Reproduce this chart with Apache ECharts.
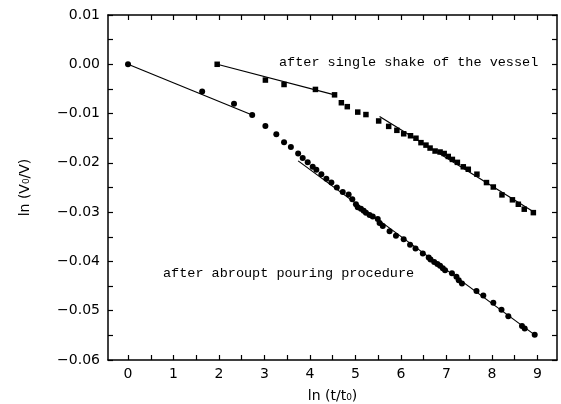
<!DOCTYPE html>
<html><head><meta charset="utf-8">
<script src="https://cdn.jsdelivr.net/npm/echarts@6/dist/echarts.min.js"></script>
<style>html,body{margin:0;padding:0;background:#fff}#c{width:561px;height:404px}</style>
</head><body><div id="c"></div>
<script>
// after abroupt pouring procedure (circles)
var pourX = [0, 1.63, 2.33, 2.73, 3.02, 3.26, 3.43, 3.58, 3.74, 3.84, 3.95, 4.06, 4.14, 4.25, 4.36, 4.47, 4.59, 4.72, 4.85, 4.93, 5.01, 5.05, 5.12, 5.18, 5.23, 5.31, 5.38, 5.49, 5.53, 5.60, 5.75, 5.89, 6.06, 6.20, 6.32, 6.48, 6.61, 6.65, 6.73, 6.80, 6.86, 6.92, 6.97, 7.12, 7.22, 7.27, 7.34, 7.66, 7.81, 8.03, 8.21, 8.36, 8.66, 8.72, 8.94];
var pourY = [0, -0.0055, -0.0080, -0.0103, -0.0125, -0.0142, -0.0158, -0.0168, -0.0181, -0.0190, -0.0199, -0.0208, -0.0214, -0.0223, -0.0232, -0.0240, -0.0250, -0.0259, -0.0264, -0.0274, -0.0284, -0.0290, -0.0293, -0.0297, -0.0301, -0.0306, -0.0309, -0.0314, -0.0322, -0.0328, -0.0339, -0.0348, -0.0355, -0.0366, -0.0374, -0.0384, -0.0392, -0.0396, -0.0401, -0.0405, -0.0409, -0.0414, -0.0418, -0.0424, -0.0431, -0.0438, -0.0445, -0.0460, -0.0469, -0.0484, -0.0498, -0.0511, -0.0531, -0.0536, -0.0549];
// after single shake of the vessel (squares)
var shakeX = [1.96, 3.02, 3.43, 4.12, 4.54, 4.69, 4.82, 5.05, 5.23, 5.51, 5.73, 5.91, 6.06, 6.21, 6.33, 6.44, 6.55, 6.64, 6.75, 6.86, 6.95, 7.04, 7.13, 7.24, 7.37, 7.48, 7.67, 7.88, 8.03, 8.22, 8.45, 8.58, 8.71, 8.91];
var shakeY = [0.0000, -0.0032, -0.0041, -0.0051, -0.0062, -0.0078, -0.0086, -0.0097, -0.0102, -0.0115, -0.0126, -0.0134, -0.0141, -0.0145, -0.0150, -0.0159, -0.0164, -0.0170, -0.0176, -0.0178, -0.0181, -0.0187, -0.0193, -0.0199, -0.0208, -0.0213, -0.0223, -0.0240, -0.0249, -0.0265, -0.0275, -0.0284, -0.0294, -0.0301];
// fitted straight lines (end points)
var pourFit1X = [0, 2.73], pourFit1Y = [0, -0.0103];
var pourFit2X = [3.74, 8.94], pourFit2Y = [-0.0196, -0.0549];
var shakeFit1X = [1.96, 4.54], shakeFit1Y = [0.0000, -0.0062];
var shakeFit2X = [5.53, 8.93], shakeFit2Y = [-0.0106, -0.0300];
// ticks
var xTickLabels = [0, 1, 2, 3, 4, 5, 6, 7, 8, 9];
var xTickMarks = [0, 0.5, 1, 1.5, 2, 2.5, 3, 3.5, 4, 4.5, 5, 5.5, 6, 6.5, 7, 7.5, 8, 8.5, 9];
var yTickMarks = [-0.06, -0.055, -0.05, -0.045, -0.04, -0.035, -0.03, -0.025, -0.02, -0.015, -0.01, -0.005, 0, 0.005, 0.01];
var yTickLabels = [-0.06, -0.05, -0.04, -0.03, -0.02, -0.01, 0, 0.01];

function zip(a, b) { return a.map(function (v, i) { return [v, b[i]]; }); }

var chart = echarts.init(document.getElementById('c'));
var lineStyle = { color: '#000', width: 1.5 };
var tickStyle = { color: '#000', width: 1.2 };
var font = 'DejaVu Sans';

var xBase = {
  type: 'value', min: -0.44, max: 9.43,
  axisLine: { show: true, onZero: false, lineStyle: lineStyle },
  splitLine: { show: false }
};
var yBase = {
  type: 'value', min: -0.06, max: 0.01,
  axisLine: { show: true, onZero: false, lineStyle: lineStyle },
  splitLine: { show: false }
};

chart.setOption({
  animation: false,
  backgroundColor: '#fff',
  grid: { left: 108, right: 4, top: 15, bottom: 44, containLabel: false, outerBoundsMode: 'none' },
  xAxis: [
    Object.assign({}, xBase, {
      position: 'bottom',
      name: 'ln (t/t₀)', nameLocation: 'middle', nameGap: 29,
      nameTextStyle: { fontFamily: font, fontSize: 14, color: '#000' },
      axisTick: { show: true, inside: true, length: 5, lineStyle: tickStyle, customValues: xTickMarks },
      axisLabel: { show: true, customValues: xTickLabels, fontFamily: font, fontSize: 14, color: '#000', margin: 7 }
    }),
    Object.assign({}, xBase, {
      position: 'top',
      axisTick: { show: true, inside: true, length: 5, lineStyle: tickStyle, customValues: xTickMarks },
      axisLabel: { show: false }
    })
  ],
  yAxis: [
    Object.assign({}, yBase, {
      position: 'left',
      name: 'ln (V₀/V)', nameLocation: 'middle', nameGap: 76, nameRotate: 90,
      nameTextStyle: { fontFamily: font, fontSize: 14, color: '#000' },
      axisTick: { show: true, inside: true, length: 5, lineStyle: tickStyle, customValues: yTickMarks },
      axisLabel: {
        show: true, customValues: yTickLabels, fontFamily: font, fontSize: 14, color: '#000', margin: 8,
        formatter: function (v) { return (Math.abs(v) < 1e-9 ? 0 : v).toFixed(2).replace('-', '\u2212'); }
      }
    }),
    Object.assign({}, yBase, {
      position: 'right',
      axisTick: { show: true, inside: true, length: 5, lineStyle: tickStyle, customValues: yTickMarks },
      axisLabel: { show: false }
    })
  ],
  graphic: [
    { type: 'text', left: 279, top: 55, style: { text: 'after single shake of the vessel', font: '13.5px "Liberation Mono"', fill: '#000' } },
    { type: 'text', left: 163, top: 266, style: { text: 'after abroupt pouring procedure', font: '13.5px "Liberation Mono"', fill: '#000' } }
  ],
  series: [
    { type: 'line', data: zip(pourFit1X, pourFit1Y), symbol: 'none', lineStyle: { color: '#000', width: 1.2 }, silent: true },
    { type: 'line', data: zip(pourFit2X, pourFit2Y), symbol: 'none', lineStyle: { color: '#000', width: 1.2 }, silent: true },
    { type: 'line', data: zip(shakeFit1X, shakeFit1Y), symbol: 'none', lineStyle: { color: '#000', width: 1.2 }, silent: true },
    { type: 'line', data: zip(shakeFit2X, shakeFit2Y), symbol: 'none', lineStyle: { color: '#000', width: 1.2 }, silent: true },
    { type: 'scatter', data: zip(pourX, pourY), symbol: 'circle', symbolSize: 6, itemStyle: { color: '#000', opacity: 1 } },
    { type: 'scatter', data: zip(shakeX, shakeY), symbol: 'rect', symbolSize: 5.5, itemStyle: { color: '#000', opacity: 1 } }
  ]
});
</script>
</body></html>
